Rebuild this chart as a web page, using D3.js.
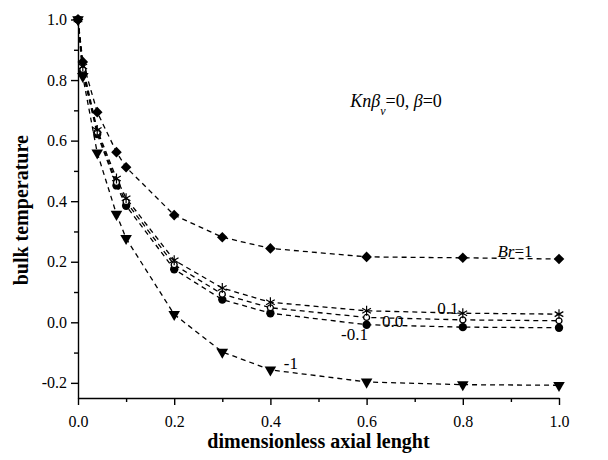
<!DOCTYPE html>
<html>
<head>
<meta charset="utf-8">
<script src="https://cdn.jsdelivr.net/npm/d3@7"></script>
<style>
  body { margin: 0; background: #fff; }
  svg text { font-family: "Liberation Serif", "Times New Roman", serif; fill: #000; }
</style>
</head>
<body>
<div id="graph"></div>
<script>
// x positions (dimensionless axial length)
let xVals = [0, 0.01, 0.04, 0.08, 0.1, 0.2, 0.3, 0.4, 0.6, 0.8, 1.0];
// bulk temperature for each Br
let brPos1 = [1.0, 0.86, 0.694, 0.562, 0.512, 0.354, 0.281, 0.244, 0.216, 0.213, 0.209];
let brPos01 = [1.0, 0.845, 0.635, 0.475, 0.41, 0.205, 0.113, 0.066, 0.038, 0.03, 0.027];
let brZero = [1.0, 0.835, 0.628, 0.462, 0.398, 0.19, 0.093, 0.048, 0.016, 0.008, 0.005];
let brNeg01 = [1.0, 0.825, 0.622, 0.452, 0.385, 0.175, 0.075, 0.03, -0.008, -0.016, -0.018];
let brNeg1 = [1.0, 0.812, 0.56, 0.357, 0.277, 0.026, -0.098, -0.157, -0.197, -0.206, -0.208];
let xTicks = [0, 0.2, 0.4, 0.6, 0.8, 1.0];
let yTicks = [-0.2, 0, 0.2, 0.4, 0.6, 0.8, 1.0];

let series = [
  { name: "1", vals: brPos1, marker: "diamond" },
  { name: "0.1", vals: brPos01, marker: "asterisk" },
  { name: "0", vals: brZero, marker: "open" },
  { name: "-0.1", vals: brNeg01, marker: "circle" },
  { name: "-1", vals: brNeg1, marker: "triangle" },
];

let W = 608, H = 460;
let margin = { top: 19.5, right: 49, bottom: 62, left: 78 };
let width = W - margin.left - margin.right,
  height = H - margin.top - margin.bottom;

let svg = d3.select("#graph").append("svg")
  .attr("width", W).attr("height", H)
  .append("g")
  .attr("transform", "translate(" + margin.left + "," + margin.top + ")");

let x = d3.scaleLinear().domain([0, 1]).range([0, width]);
let y = d3.scaleLinear().domain([-0.25, 1.0]).range([height, 0]);

// minor ticks first, then major
svg.append("g").attr("transform", "translate(0," + height + ")")
  .call(d3.axisBottom(x).tickValues(d3.range(0.1, 1, 0.2)).tickSize(4).tickFormat(""))
  .call(g => g.select(".domain").remove());
svg.append("g")
  .call(d3.axisLeft(y).tickValues(d3.range(-0.1, 1, 0.2)).tickSize(4).tickFormat(""))
  .call(g => g.select(".domain").remove());

let xAxis = svg.append("g").attr("transform", "translate(0," + height + ")")
  .call(d3.axisBottom(x).tickValues(xTicks).tickSize(7).tickSizeOuter(0)
    .tickFormat(d3.format(".1f")));
let yAxis = svg.append("g")
  .call(d3.axisLeft(y).tickValues(yTicks).tickSize(7).tickSizeOuter(0).tickPadding(4)
    .tickFormat(d3.format(".1f")));
[xAxis, yAxis].forEach(a => {
  a.attr("font-family", "Liberation Serif").attr("font-size", 16);
  a.selectAll("text").style("font-size", "16px").style("font-family", "'Liberation Serif', serif");
  a.selectAll("line, path").attr("stroke", "#000").attr("stroke-width", 1.4);
});
// push x tick labels a bit lower, like the original
xAxis.selectAll(".tick text").attr("y", 0).attr("dy", 0).attr("transform", "translate(0,29)");
svg.selectAll(".tick line").attr("stroke", "#000").attr("stroke-width", 1.4);
yAxis.selectAll("text").text(d => d === 0 ? "0.0" : d3.format(".1f")(d).replace("−", "-"));

// lines
let line = d3.line().x((d, i) => x(xVals[i])).y(d => y(d));
series.forEach(s => {
  svg.append("path").datum(s.vals)
    .attr("d", line)
    .attr("fill", "none")
    .attr("stroke", "#000")
    .attr("stroke-width", 1.3)
    .attr("stroke-dasharray", "5,4");
});

// markers
function drawMarker(g, type) {
  if (type === "diamond") {
    g.append("path").attr("d", d3.symbol(d3.symbolSquare, 56)())
      .attr("transform", "rotate(45)").attr("fill", "#000");
  } else if (type === "triangle") {
    g.append("path").attr("d", d3.symbol(d3.symbolTriangle, 58)())
      .attr("transform", "rotate(180)").attr("fill", "#000");
  } else if (type === "circle") {
    g.append("path").attr("d", d3.symbol(d3.symbolCircle, 55)()).attr("fill", "#000");
  } else if (type === "open") {
    g.append("path").attr("d", d3.symbol(d3.symbolCircle, 28)())
      .attr("fill", "#fff").attr("stroke", "#000").attr("stroke-width", 1.3);
  } else if (type === "asterisk") {
    g.append("path").attr("d", d3.symbol(d3.symbolAsterisk, 70)())
      .attr("fill", "none").attr("stroke", "#000").attr("stroke-width", 1.2);
  }
}
series.slice().reverse().forEach(s => {
  s.vals.forEach((v, i) => {
    let g = svg.append("g").attr("transform", "translate(" + x(xVals[i]) + "," + y(v) + ")");
    drawMarker(g, s.marker);
  });
});

// curve labels
function label(tx, ty, txt) {
  return svg.append("text").attr("x", x(tx)).attr("y", y(ty))
    .style("font-size", "17px").text(txt);
}
let brLab = svg.append("text").attr("x", x(0.872)).attr("y", y(0.215)).style("font-size", "17px");
brLab.append("tspan").style("font-style", "italic").text("Br");
brLab.append("tspan").text("=1");
label(0.747, 0.026, "0.1");
label(0.632, -0.017, "0.0");
label(0.547, -0.06, "-0.1");
label(0.428, -0.155, "-1");

// parameter annotation
let ann = svg.append("text").attr("x", x(0.566)).attr("y", y(0.71)).style("font-size", "18px");
ann.append("tspan").style("font-style", "italic").text("Kn\u03B2");
ann.append("tspan").attr("dy", 8).style("font-style", "italic").style("font-size", "12px").text("v");
ann.append("tspan").attr("dy", -8).text("=0, ");
ann.append("tspan").style("font-style", "italic").text("\u03B2");
ann.append("tspan").text("=0");

// axis titles
svg.append("text")
  .attr("x", width / 2).attr("y", height + 50)
  .attr("text-anchor", "middle")
  .style("font-size", "20px").style("font-weight", "bold")
  .text("dimensionless axial lenght");
svg.append("text")
  .attr("transform", "translate(" + (-50) + "," + (y(0.37)) + ") rotate(-90)")
  .attr("text-anchor", "middle")
  .style("font-size", "20px").style("font-weight", "bold")
  .text("bulk temperature");
</script>
</body>
</html>
